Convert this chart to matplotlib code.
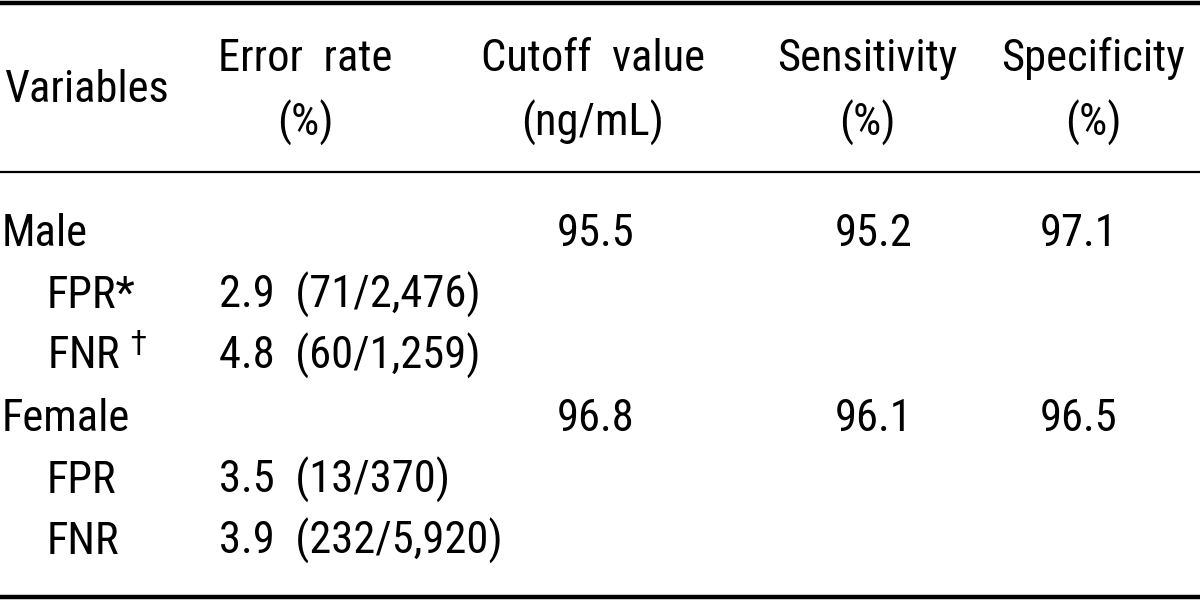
import matplotlib
matplotlib.use("Agg")
import matplotlib.pyplot as plt
from matplotlib import font_manager

# table content
headers_top = ["Error  rate", "Cutoff  value", "Sensitivity", "Specificity"]
headers_bottom = ["(%)", "(ng/mL)", "(%)", "(%)"]
row_labels = ["Male", "FPR*", "FNR $^{\\dagger}$", "Female", "FPR", "FNR"]
row_indent = [False, True, True, False, True, True]
error_rate = ["", "2.9  (71/2,476)", "4.8  (60/1,259)", "", "3.5  (13/370)", "3.9  (232/5,920)"]
cutoff = ["95.5", "", "", "96.8", "", ""]
sensitivity = ["95.2", "", "", "96.1", "", ""]
specificity = ["97.1", "", "", "96.5", "", ""]

# pick the narrowest installed sans family (the original uses a condensed face)
installed = {f.name for f in font_manager.fontManager.ttflist}
family, fs = "DejaVu Sans Condensed", 28
for name, size in [("Liberation Sans Narrow", 34), ("Roboto Condensed", 32)]:
    if name in installed:
        family, fs = name, size
        break
plt.rcParams["font.family"] = [family, "DejaVu Sans"]
plt.rcParams["mathtext.fontset"] = "dejavusans"

fig = plt.figure(figsize=(12, 6.01), dpi=100)
ax = fig.add_axes([0, 0, 1, 1])
ax.set_xlim(0, 1200)
ax.set_ylim(601, 0)
ax.axis("off")

col_x = [305, 593, 867, 1093]

ax.axhline(3, color="black", lw=3.2)
ax.axhline(172, color="black", lw=1.6)
ax.axhline(597, color="black", lw=3.2)

ax.text(4, 102, "Variables", fontsize=fs, ha="left", va="baseline")
for x, top, bot in zip(col_x, headers_top, headers_bottom):
    ax.text(x, 71, top, fontsize=fs, ha="center", va="baseline")
    ax.text(x, 136, bot, fontsize=fs, ha="center", va="baseline")

row_y = [246, 308, 369, 431, 493, 554]
for y, lab, ind, er, c, se, sp in zip(row_y, row_labels, row_indent, error_rate,
                                      cutoff, sensitivity, specificity):
    ax.text(47 if ind else 2, y, lab, fontsize=fs, ha="left", va="baseline")
    ax.text(219, y, er, fontsize=fs, ha="left", va="baseline")
    ax.text(596, y, c, fontsize=fs, ha="center", va="baseline")
    ax.text(874, y, se, fontsize=fs, ha="center", va="baseline")
    ax.text(1079, y, sp, fontsize=fs, ha="center", va="baseline")

fig.savefig("out.png", dpi=100, facecolor="white")
